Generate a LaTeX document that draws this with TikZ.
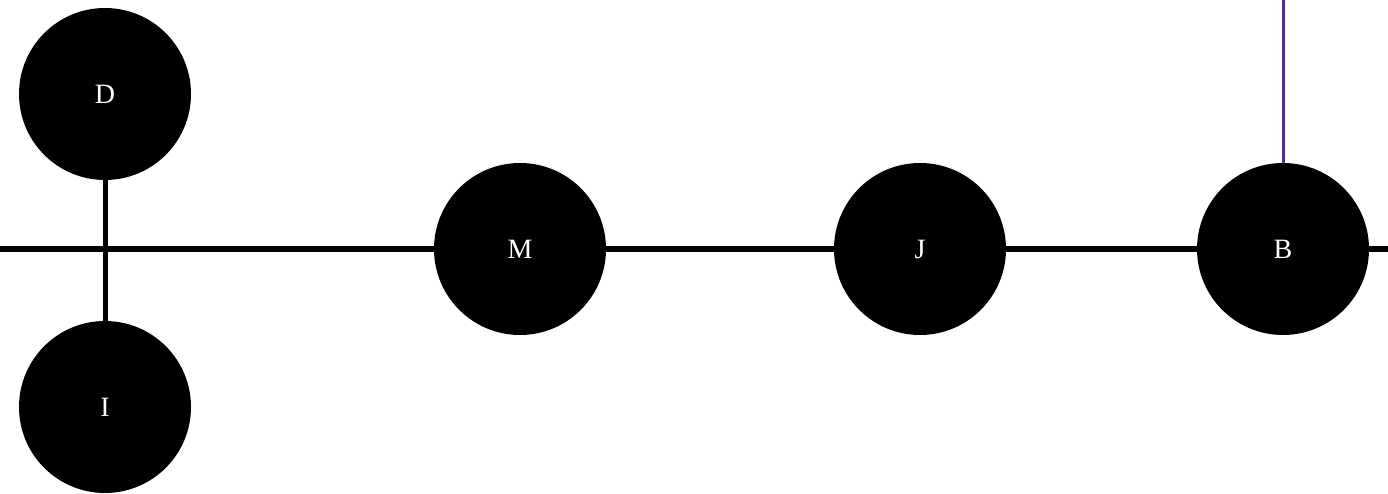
\documentclass[tikz,border=0pt]{standalone}
\usepackage{fontspec}
\setmainfont{Liberation Serif}
\definecolor{linkpurple}{RGB}{84,46,140}
\tikzset{
  station/.style={circle, fill=black, minimum size=172pt, inner sep=0pt,
    text=white, font=\fontsize{28}{30}\selectfont},
  track/.style={line width=5pt, black},
  feed/.style={line width=3pt, linkpurple}
}
\begin{document}
\begin{tikzpicture}[x=1pt, y=1pt, line cap=butt, line join=round]
\useasboundingbox (0,0) rectangle (1388,-494);

\node[station] (D) at (105,-94) {D};
\node[station] (I) at (105,-407) {I};
\node[station] (M) at (520,-249) {M};
\node[station] (J) at (920,-249) {J};
\node[station] (B) at (1283,-249) {B};

\coordinate (L) at (0,-249);
\coordinate (R) at (1388,-249);
\coordinate (T) at (1283,0);

\draw[track] (D) -- (I);
\draw[track] (L) -- (M) -- (J) -- (B) -- (R);
\draw[feed] (T) -- (B);
\end{tikzpicture}
\end{document}
